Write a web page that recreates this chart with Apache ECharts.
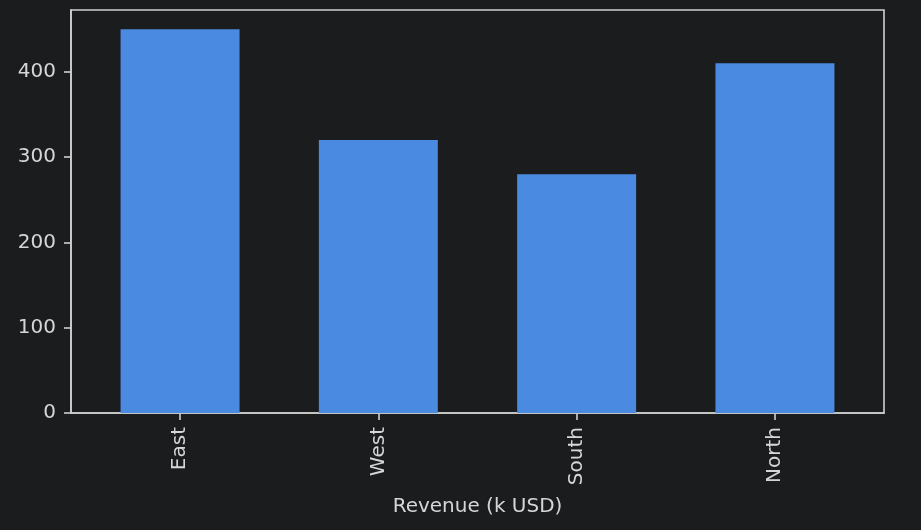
<!DOCTYPE html>
<html>
<head>
<meta charset="utf-8">
<script src="https://cdn.jsdelivr.net/npm/echarts@6/dist/echarts.min.js"></script>
<style>
html,body{margin:0;padding:0;background:#1b1c1e;}
#chart{width:921px;height:530px;}
</style>
</head>
<body>
<div id="chart"></div>
<script>
const categories = ["East", "West", "South", "North"];
const revenue = [450, 320, 280, 410];
const yTicks = [0, 100, 200, 300, 400];
const xLabel = "Revenue (k USD)";

const chart = echarts.init(document.getElementById('chart'));
const gridLeft = 71, gridRight = 37, gridTop = 10, gridBottom = 117;
const xMin = -0.55, xMax = 3.55;
const gridW = 921 - gridLeft - gridRight;
const barW = 0.6 * gridW / (xMax - xMin);
const textColor = '#d6d6d6';
const lineColor = '#d0d0d0';
const font = 'DejaVu Sans';

chart.setOption({
  backgroundColor: '#1b1c1e',
  animation: false,
  grid: {
    left: gridLeft, right: gridRight, top: gridTop, bottom: gridBottom,
    show: true, borderColor: lineColor, borderWidth: 1.6, backgroundColor: 'transparent'
  },
  xAxis: {
    type: 'value', min: xMin, max: xMax,
    splitLine: {show: false},
    axisLine: {show: true, onZero: false, lineStyle: {color: lineColor, width: 1.6}},
    axisTick: {show: true, length: 7, lineStyle: {color: lineColor, width: 1.6},
      customValues: categories.map((c, i) => i)},
    axisLabel: {
      customValues: categories.map((c, i) => i),
      formatter: v => categories[Math.round(v)] || '',
      rotate: 90, margin: 14, color: textColor, fontSize: 20, fontFamily: font
    },
    name: xLabel, nameLocation: 'middle', nameGap: 84,
    nameTextStyle: {color: textColor, fontSize: 20, fontFamily: font}
  },
  yAxis: {
    type: 'value', min: 0, max: 472.5,
    splitLine: {show: false},
    axisLine: {show: true, onZero: false, lineStyle: {color: lineColor, width: 1.6}},
    axisTick: {show: true, length: 7, lineStyle: {color: lineColor, width: 1.6},
      customValues: yTicks},
    axisLabel: {customValues: yTicks, margin: 15, color: textColor, fontSize: 20, fontFamily: font}
  },
  series: [{
    type: 'bar',
    data: revenue.map((v, i) => [i, v]),
    barWidth: barW,
    itemStyle: {color: '#4a8ae0'}
  }]
});
</script>
</body>
</html>
